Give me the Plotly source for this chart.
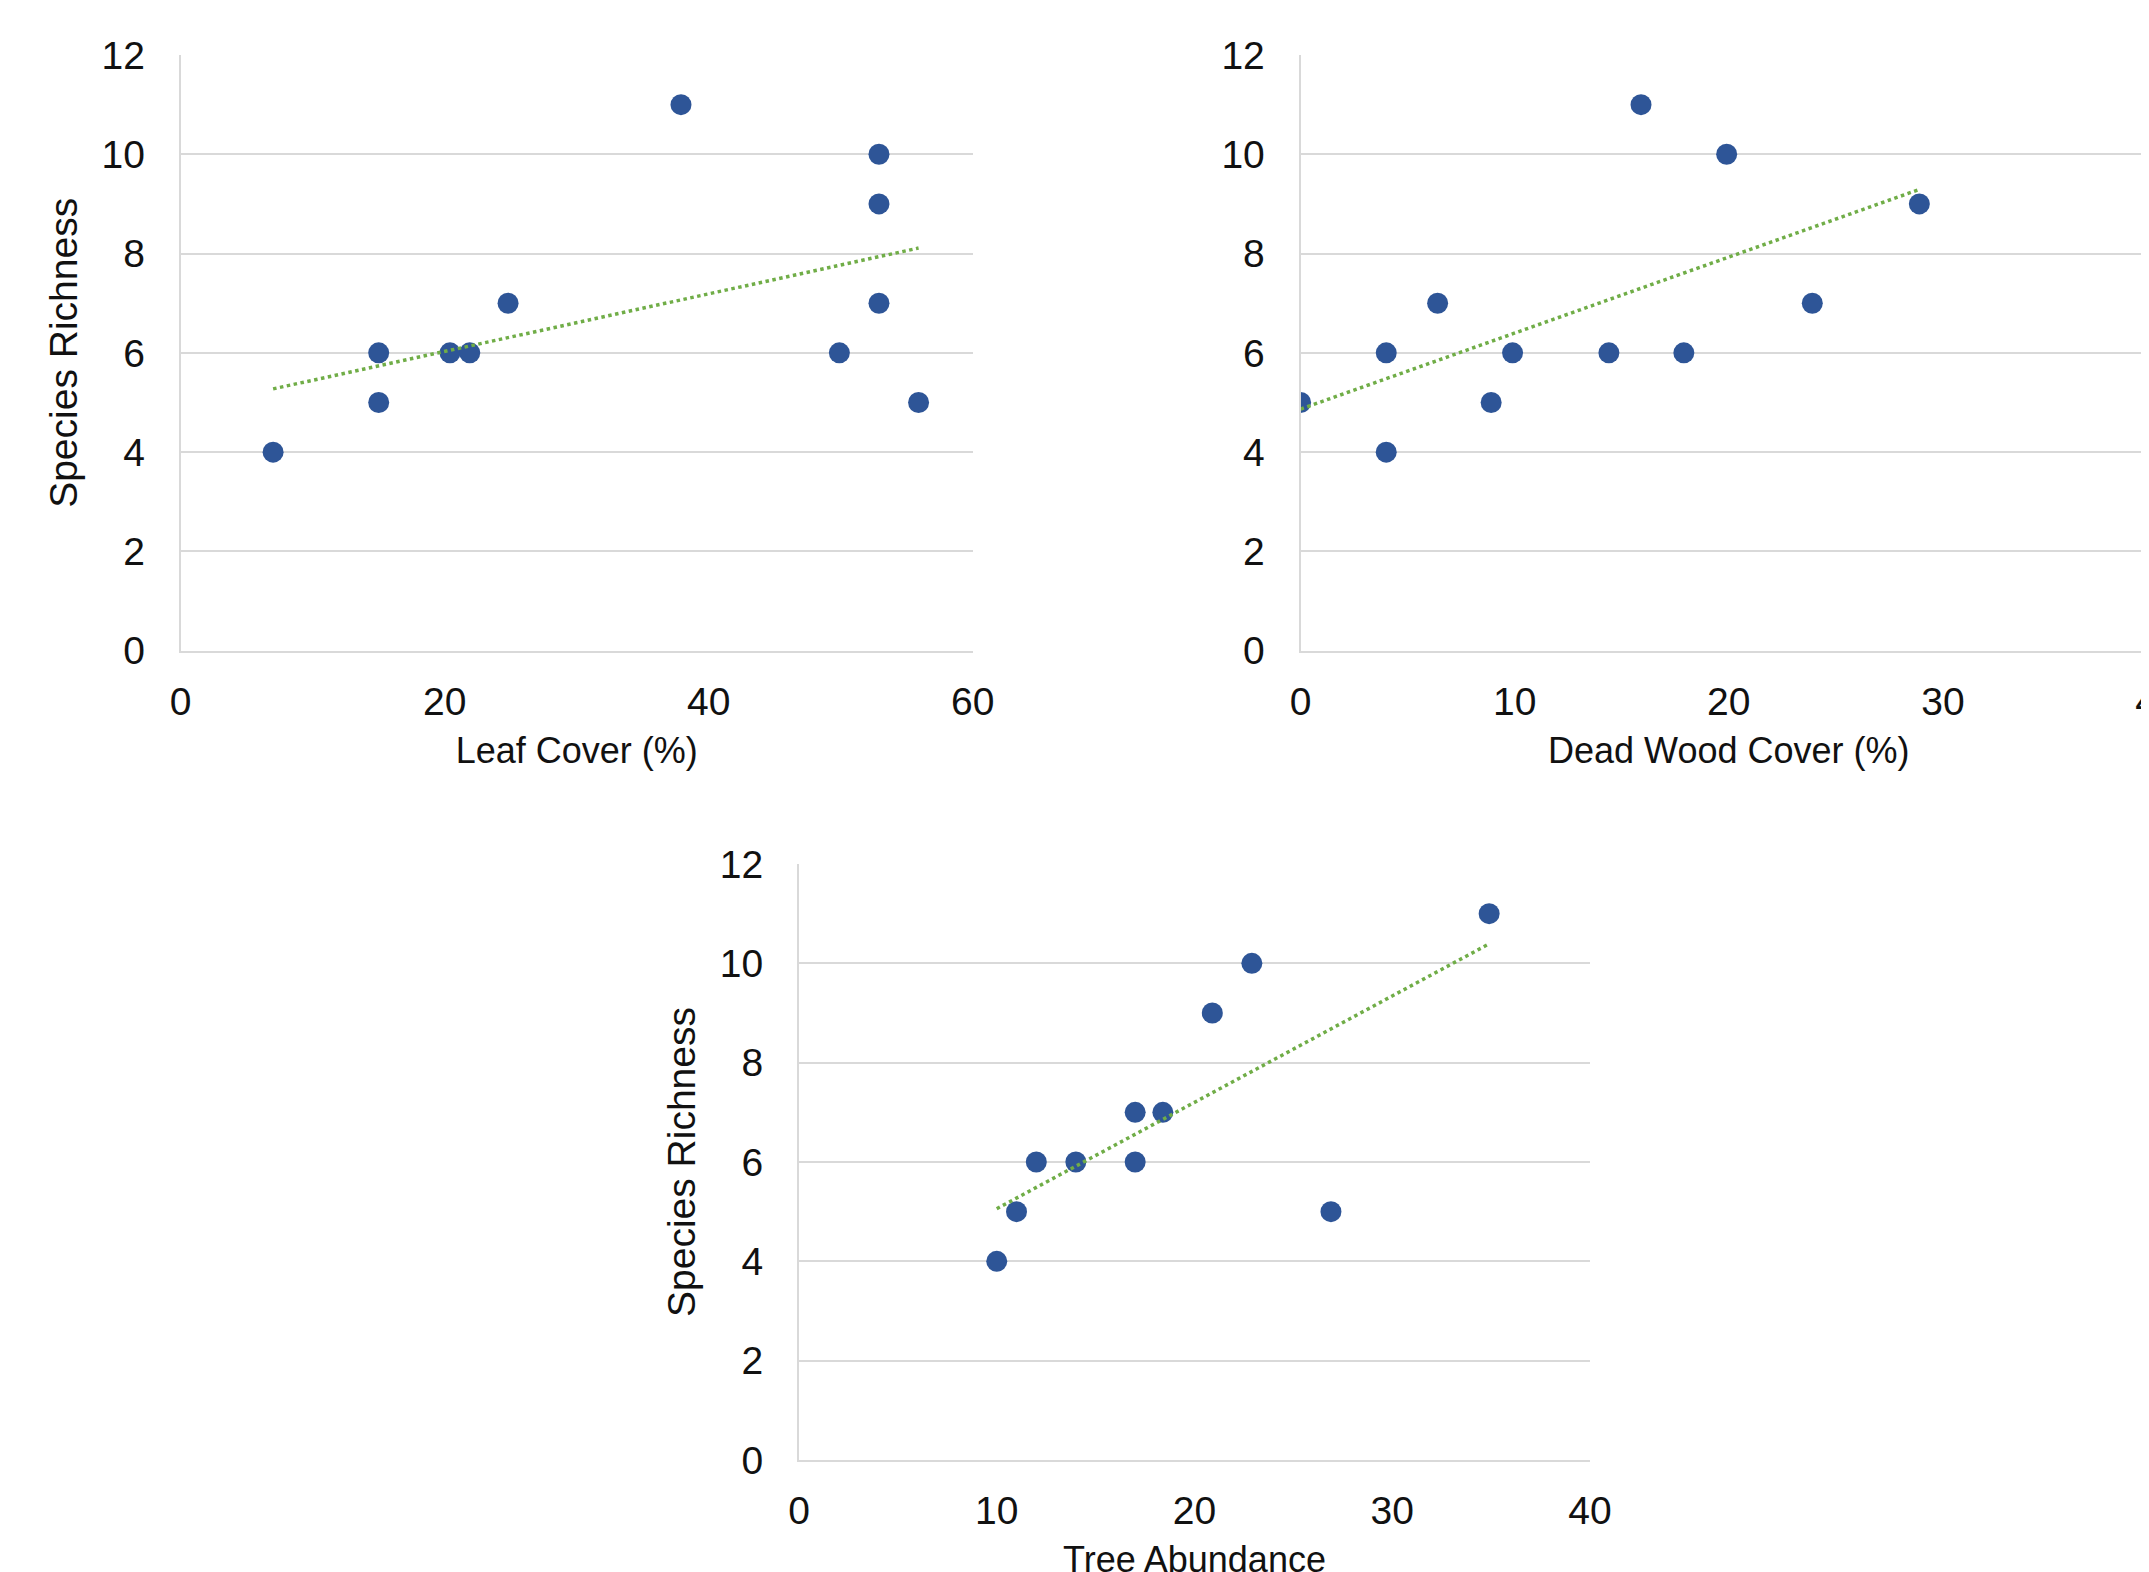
import numpy as np
import plotly.graph_objects as go

# ---- data ----
leaf_cover = [7, 15, 15, 20.4, 21.9, 24.8, 37.9, 52.9, 52.9, 52.9, 49.9, 55.9]
richness_leaf = [4, 6, 5, 6, 6, 7, 11, 10, 9, 7, 6, 5]

dead_wood_cover = [0, 4, 4, 6.4, 8.9, 9.9, 14.4, 15.9, 17.9, 19.9, 23.9, 28.9]
richness_wood = [5, 6, 4, 7, 5, 6, 6, 11, 6, 10, 7, 9]

tree_abundance = [10, 11, 12, 14, 17, 17, 18.4, 20.9, 22.9, 26.9, 34.9]
richness_tree = [4, 5, 6, 6, 7, 6, 7, 9, 10, 5, 11]

y_ticks = [0, 2, 4, 6, 8, 10, 12]
x1_ticks = [0, 20, 40, 60]
x2_ticks = [0, 10, 20, 30, 40]
x3_ticks = [0, 10, 20, 30, 40]

x_titles = ["Leaf Cover (%)", "Dead Wood Cover (%)", "Tree Abundance"]
y_title = "Species Richness"

# ---- style ----
W, H = 2149, 1572
OFF = 8  # page body margin
DOT = "#2E5597"
TREND = "#70AD47"
GRID = "#D9D9D9"
FONT = "Liberation Sans, Arial, sans-serif"
TXT = "#111111"

fig = go.Figure()

panels = [
    (leaf_cover, richness_leaf, "x", "y"),
    (dead_wood_cover, richness_wood, "x2", "y2"),
    (tree_abundance, richness_tree, "x3", "y3"),
]
for xs, ys, xa, ya in panels:
    fig.add_trace(go.Scatter(
        x=xs, y=ys, mode="markers", xaxis=xa, yaxis=ya,
        marker=dict(color=DOT, size=21, line=dict(width=0)),
        showlegend=False, hoverinfo="x+y"))
    m, b = np.polyfit(xs, ys, 1)
    tx = [min(xs), max(xs)]
    fig.add_trace(go.Scatter(
        x=tx, y=[m * v + b for v in tx], mode="lines", xaxis=xa, yaxis=ya,
        line=dict(color=TREND, width=3.5, dash="dot"),
        showlegend=False, hoverinfo="skip"))

def px_x(a, b):
    return [(a - OFF) / W, min((b - OFF) / W, 1.0)]

def px_y(top, bottom):
    return [1 - (bottom - OFF) / H, 1 - (top - OFF) / H]

common_x = dict(showgrid=False, zeroline=False, showline=True, linecolor=GRID,
                linewidth=2, ticks="", ticklabelstandoff=15, ticklabeloverflow="allow",
                tickfont=dict(family=FONT, size=39, color=TXT), automargin=False)
common_y = dict(range=[0, 12], tickvals=y_ticks, showgrid=True, gridcolor=GRID,
                gridwidth=2, zeroline=False, showline=True, linecolor=GRID,
                linewidth=2, ticks="", ticklabelstandoff=26,
                tickfont=dict(family=FONT, size=39, color=TXT), automargin=False)
xtitle_font = dict(family=FONT, size=36, color=TXT)
ytitle_font = dict(family=FONT, size=39, color=TXT)

fig.update_layout(
    width=W, height=H,
    margin=dict(l=0, r=0, t=0, b=0),
    paper_bgcolor="white", plot_bgcolor="white",
    xaxis=dict(common_x, domain=px_x(180.7, 972.7), range=[0, 60], tickvals=x1_ticks,
               anchor="y", title=dict(text=x_titles[0], font=xtitle_font, standoff=16)),
    yaxis=dict(common_y, domain=px_y(55, 650.7), anchor="x",
               title=dict(text=y_title, font=ytitle_font, standoff=12)),
    xaxis2=dict(common_x, domain=px_x(1300.6, 2160), range=[0, 40], tickvals=x2_ticks,
                anchor="y2", title=dict(text=x_titles[1], font=xtitle_font, standoff=16)),
    yaxis2=dict(common_y, domain=px_y(55, 650.7), anchor="x2"),
    xaxis3=dict(common_x, domain=px_x(799, 1590), range=[0, 40], tickvals=x3_ticks,
                anchor="y3", title=dict(text=x_titles[2], font=xtitle_font, standoff=16)),
    yaxis3=dict(common_y, domain=px_y(864, 1460), anchor="x3",
                title=dict(text=y_title, font=ytitle_font, standoff=12)),
)

fig.write_html("out.html")
